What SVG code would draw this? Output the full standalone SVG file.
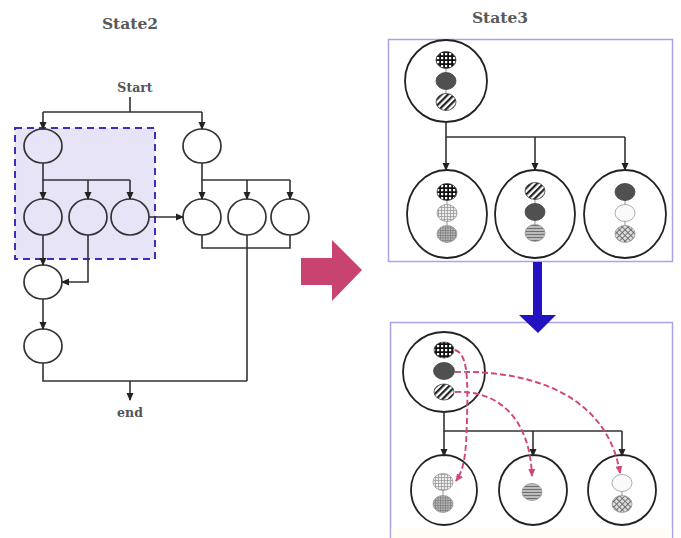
<svg xmlns="http://www.w3.org/2000/svg" width="681" height="538" viewBox="0 0 681 538">
  <style>
    .title { font-family: "DejaVu Serif", "Liberation Serif", serif; font-weight: bold; fill: #595959; }
    .lbl { font-family: "DejaVu Serif", "Liberation Serif", serif; font-weight: bold; font-size: 12.5px; fill: #555; }
    .node { fill: none; stroke: #333; stroke-width: 1.7; }
    .wire { fill: none; stroke: #333; stroke-width: 1.6; }
    .arr { marker-end: url(#tip); }
    .big { fill: #fff; stroke: #222; stroke-width: 1.8; }
    .box { fill: #fff; stroke: #a9a4e6; stroke-width: 1.5; }
    .dot { stroke: #444; stroke-width: 0.8; }
    .dotl { stroke: #999; stroke-width: 0.8; }
    .link { stroke: #777; stroke-width: 0.8; }
    .flow { fill: none; stroke: #d0457c; stroke-width: 1.9; stroke-dasharray: 6 3; marker-end: url(#ptip); }
  </style>
  <defs>
    <marker id="tip" markerWidth="8" markerHeight="8" refX="7" refY="4" orient="auto" markerUnits="userSpaceOnUse">
      <path d="M0,0.5 L8,4 L0,7.5 Z" fill="#222"/>
    </marker>
    <marker id="ptip" markerWidth="8" markerHeight="8" refX="7" refY="4" orient="auto" markerUnits="userSpaceOnUse">
      <path d="M0,0.5 L8,4 L0,7.5 Z" fill="#d0457c"/>
    </marker>
    <!-- fill patterns for the small data ellipses -->
    <pattern id="pGrid" width="4" height="4" patternUnits="userSpaceOnUse">
      <rect width="4" height="4" fill="#111"/>
      <rect x="1" y="1" width="2.2" height="2.2" fill="#fff"/>
    </pattern>
    <pattern id="pDiag" width="4.5" height="4.5" patternUnits="userSpaceOnUse" patternTransform="rotate(45)">
      <rect width="4.5" height="4.5" fill="#fff"/>
      <rect width="2.2" height="4.5" fill="#222"/>
    </pattern>
    <pattern id="pLightGrid" width="3" height="3" patternUnits="userSpaceOnUse">
      <rect width="3" height="3" fill="#eee"/>
      <path d="M0,0.5 H3 M0.5,0 V3" stroke="#999" stroke-width="0.8"/>
    </pattern>
    <pattern id="pFineGrid" width="2.5" height="2.5" patternUnits="userSpaceOnUse">
      <rect width="2.5" height="2.5" fill="#bbb"/>
      <path d="M0,0.5 H2.5 M0.5,0 V2.5" stroke="#777" stroke-width="0.7"/>
    </pattern>
    <pattern id="pHoriz" width="3" height="3" patternUnits="userSpaceOnUse">
      <rect width="3" height="3" fill="#bbb"/>
      <path d="M0,0.5 H3" stroke="#666" stroke-width="0.9"/>
    </pattern>
    <pattern id="pCross" width="4" height="4" patternUnits="userSpaceOnUse" patternTransform="rotate(45)">
      <rect width="4" height="4" fill="#ddd"/>
      <path d="M0,0.5 H4 M0.5,0 V4" stroke="#666" stroke-width="0.9"/>
    </pattern>
  </defs>

  <rect width="681" height="538" fill="#fff"/>

  <!-- ===== State2 ===== -->
  <text class="title" x="130" y="29" font-size="15.5" text-anchor="middle">State2</text>
  <rect id="group-box" x="15" y="128" width="140" height="131" fill="#e6e4f6" stroke="#3b2fc0" stroke-width="2" stroke-dasharray="7 5"/>

  <g id="start"><text class="lbl" x="135" y="92" text-anchor="middle">Start</text></g>
  <g id="end"><text class="lbl" x="130" y="417" text-anchor="middle">end</text></g>

  <g id="s2-a"><ellipse class="node" cx="43" cy="146" rx="19" ry="17"/></g>
  <g id="s2-b"><ellipse class="node" cx="202" cy="146" rx="19" ry="17"/></g>
  <g id="s2-c1"><ellipse class="node" cx="43" cy="217" rx="19" ry="18"/></g>
  <g id="s2-c2"><ellipse class="node" cx="88" cy="217" rx="19" ry="18"/></g>
  <g id="s2-c3"><ellipse class="node" cx="130" cy="217" rx="19" ry="18"/></g>
  <g id="s2-d1"><ellipse class="node" cx="202" cy="217" rx="19" ry="18"/></g>
  <g id="s2-d2"><ellipse class="node" cx="247" cy="217" rx="19" ry="18"/></g>
  <g id="s2-d3"><ellipse class="node" cx="290" cy="217" rx="19" ry="18"/></g>
  <g id="s2-e"><ellipse class="node" cx="43" cy="282" rx="19" ry="17"/></g>
  <g id="s2-f"><ellipse class="node" cx="43" cy="346" rx="19" ry="17"/></g>

  <g id="s2-connectors">
    <path class="wire" d="M130,97 V112 M43,112 H202"/>
    <path class="wire arr" d="M43,112 V129"/>
    <path class="wire arr" d="M202,112 V129"/>
    <path class="wire" d="M43,163 V180 H130"/>
    <path class="wire arr" d="M43,180 V199"/>
    <path class="wire arr" d="M88,180 V199"/>
    <path class="wire arr" d="M130,180 V199"/>
    <path class="wire" d="M202,163 V180 H290"/>
    <path class="wire arr" d="M202,180 V199"/>
    <path class="wire arr" d="M247,180 V199"/>
    <path class="wire arr" d="M290,180 V199"/>
    <path class="wire arr" d="M149,217 H183"/>
    <path class="wire" d="M202,235 V248 H290 V235 M247,235 V381"/>
    <path class="wire arr" d="M43,235 V265"/>
    <path class="wire arr" d="M88,235 V282 H62"/>
    <path class="wire arr" d="M43,299 V329"/>
    <path class="wire" d="M43,363 V381 H247"/>
    <path class="wire arr" d="M130,381 V400"/>
  </g>

  <!-- transition arrows -->
  <polygon id="to-state3" points="301,258 332,258 332,240 362,270 332,301 332,285 301,285" fill="#c8436f"/>

  <!-- ===== State3 ===== -->
  <text class="title" x="500" y="23" font-size="15.5" text-anchor="middle">State3</text>

  <rect class="box" x="388.5" y="39.5" width="284" height="222"/>
  <rect class="box" x="390.5" y="322.5" width="282" height="230"/>
  <rect x="391.5" y="528" width="280" height="10" fill="#fffdf4"/>

  <polygon id="refine" points="533,262 542,262 542,315 556,315 538,333 519,315 533,315" fill="#2312c2"/>

  <!-- upper panel -->
  <g id="p1-root">
    <circle class="big" cx="446" cy="81" r="41"/>
    <path class="link" d="M446,68 V73 M446,89 V94"/>
    <ellipse class="dot" cx="446" cy="60" rx="10" ry="8.5" fill="url(#pGrid)"/>
    <ellipse class="dot" cx="446" cy="81" rx="10" ry="8.5" fill="#505050"/>
    <ellipse class="dot" cx="446" cy="102" rx="10" ry="8.5" fill="url(#pDiag)"/>
  </g>
  <g id="p1-left">
    <ellipse class="big" cx="447" cy="214" rx="40" ry="44"/>
    <path class="link" d="M447,200 V205 M447,221 V226"/>
    <ellipse class="dot" cx="447" cy="192" rx="10" ry="8.5" fill="url(#pGrid)"/>
    <ellipse class="dotl" cx="447" cy="213" rx="10" ry="8.5" fill="url(#pLightGrid)"/>
    <ellipse class="dotl" cx="447" cy="234" rx="10" ry="8.5" fill="url(#pFineGrid)"/>
  </g>
  <g id="p1-mid">
    <ellipse class="big" cx="535" cy="214" rx="40" ry="44"/>
    <path class="link" d="M535,199 V204 M535,220 V225"/>
    <ellipse class="dot" cx="535" cy="191" rx="10" ry="8.5" fill="url(#pDiag)"/>
    <ellipse class="dot" cx="535" cy="212" rx="10" ry="8.5" fill="#505050"/>
    <ellipse class="dotl" cx="535" cy="233" rx="10" ry="8.5" fill="url(#pHoriz)"/>
  </g>
  <g id="p1-right">
    <ellipse class="big" cx="625" cy="214" rx="41" ry="44"/>
    <path class="link" d="M625,200 V205 M625,221 V226"/>
    <ellipse class="dot" cx="625" cy="192" rx="10" ry="8.5" fill="#505050"/>
    <ellipse class="dotl" cx="625" cy="213" rx="10" ry="8.5" fill="#fafafa"/>
    <ellipse class="dotl" cx="625" cy="234" rx="10" ry="8.5" fill="url(#pCross)"/>
  </g>
  <g id="p1-connectors">
    <path class="wire" d="M446,122 V137 H625"/>
    <path class="wire arr" d="M446,137 V170"/>
    <path class="wire arr" d="M535,137 V170"/>
    <path class="wire arr" d="M625,137 V170"/>
  </g>

  <!-- lower panel -->
  <g id="p2-root">
    <ellipse class="big" cx="444" cy="372" rx="41" ry="40"/>
    <ellipse class="dot" cx="444" cy="350" rx="10" ry="8" fill="url(#pGrid)"/>
    <ellipse class="dot" cx="444" cy="371" rx="10.5" ry="8.5" fill="#505050"/>
    <ellipse class="dot" cx="444" cy="392" rx="10" ry="8" fill="url(#pDiag)"/>
  </g>
  <g id="p2-left">
    <ellipse class="big" cx="444" cy="490" rx="33" ry="35"/>
    <path class="link" d="M443,490 V496"/>
    <ellipse class="dotl" cx="443" cy="482" rx="10" ry="8.5" fill="url(#pLightGrid)"/>
    <ellipse class="dotl" cx="443" cy="504" rx="10" ry="8.5" fill="url(#pFineGrid)"/>
  </g>
  <g id="p2-mid">
    <ellipse class="big" cx="533" cy="490" rx="34" ry="35"/>
    <ellipse class="dotl" cx="532" cy="492" rx="10" ry="8.5" fill="url(#pHoriz)"/>
  </g>
  <g id="p2-right">
    <ellipse class="big" cx="622" cy="490" rx="34" ry="35"/>
    <path class="link" d="M622,491 V496"/>
    <ellipse class="dotl" cx="622" cy="483" rx="10" ry="8.5" fill="#fafafa"/>
    <ellipse class="dotl" cx="622" cy="504" rx="10" ry="8.5" fill="url(#pCross)"/>
  </g>
  <g id="p2-connectors">
    <path class="wire" d="M444,412 V431 H622"/>
    <path class="wire arr" d="M444,431 V456"/>
    <path class="wire arr" d="M533,431 V456"/>
    <path class="wire arr" d="M622,431 V456"/>
    <path class="flow" d="M455,350 C468,354 468,380 467,420 C466,452 465,468 456,481"/>
    <path class="flow" d="M455,372 C540,370 608,400 620,473"/>
    <path class="flow" d="M455,392 C500,390 530,420 532,476"/>
  </g>
</svg>
